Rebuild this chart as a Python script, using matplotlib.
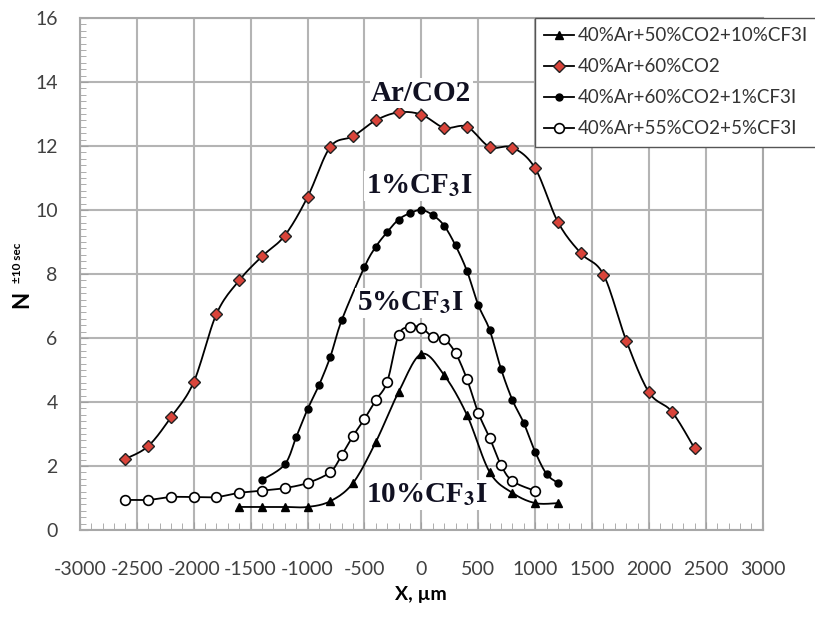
import matplotlib
matplotlib.use("Agg")
import matplotlib.pyplot as plt
import numpy as np
from matplotlib.ticker import MultipleLocator

plt.rcParams['font.family'] = ['Lato', 'DejaVu Sans']
plt.rcParams['mathtext.fontset'] = 'stix'
plt.rcParams['axes.unicode_minus'] = False

# data (x in um, counts)
x_10 = [-1600, -1400, -1200, -1000, -800, -600, -400, -200, 0, 200, 400, 600, 800, 1000, 1200]
y_10 = [0.72, 0.72, 0.72, 0.72, 0.9, 1.47, 2.75, 4.31, 5.5, 4.84, 3.6, 1.81, 1.16, 0.84, 0.84]

x_ar = [-2600, -2400, -2200, -2000, -1800, -1600, -1400, -1200, -1000, -800, -600, -400, -200,
        0, 200, 400, 600, 800, 1000, 1200, 1400, 1600, 1800, 2000, 2200, 2400]
y_ar = [2.22, 2.62, 3.52, 4.62, 6.75, 7.8, 8.55, 9.2, 10.4, 11.97, 12.3, 12.8, 13.05,
        12.98, 12.57, 12.6, 11.97, 11.95, 11.3, 9.62, 8.65, 7.98, 5.92, 4.3, 3.7, 2.55]

x_1 = [-1400, -1200, -1100, -1000, -900, -800, -700, -500, -400, -300, -200, -100,
       0, 100, 200, 300, 400, 500, 600, 700, 800, 900, 1000, 1100, 1200]
y_1 = [1.56, 2.05, 2.9, 3.77, 4.52, 5.41, 6.55, 8.22, 8.85, 9.31, 9.7, 9.9,
       10.0, 9.84, 9.51, 8.89, 8.1, 7.03, 6.25, 5.03, 4.06, 3.34, 2.44, 1.75, 1.47]

x_5 = [-2600, -2400, -2200, -2000, -1800, -1600, -1400, -1200, -1000, -800, -700, -600, -500,
       -400, -300, -200, -100, 0, 100, 200, 300, 400, 500, 600, 700, 800, 1000]
y_5 = [0.94, 0.94, 1.03, 1.03, 1.03, 1.16, 1.23, 1.31, 1.47, 1.81, 2.34, 2.94, 3.47,
       4.06, 4.63, 6.09, 6.34, 6.32, 6.03, 5.97, 5.53, 4.72, 3.66, 2.88, 2.03, 1.53, 1.22]

labels = ["40%Ar+50%CO2+10%CF3I", "40%Ar+60%CO2", "40%Ar+60%CO2+1%CF3I", "40%Ar+55%CO2+5%CF3I"]


def smooth(xs, ys, n=12):
    # catmull-rom curve through the points, like excel's smoothed lines
    p = np.column_stack([xs, ys]).astype(float)
    p = np.vstack([p[0], p, p[-1]])
    t = np.linspace(0, 1, n, endpoint=False)[:, None]
    out = []
    for i in range(1, len(p) - 2):
        p0, p1, p2, p3 = p[i - 1], p[i], p[i + 1], p[i + 2]
        seg = 0.5 * ((2 * p1) + (-p0 + p2) * t + (2 * p0 - 5 * p1 + 4 * p2 - p3) * t ** 2
                     + (-p0 + 3 * p1 - 3 * p2 + p3) * t ** 3)
        out.append(seg)
    out.append(p[-2][None, :])
    out = np.vstack(out)
    return out[:, 0], out[:, 1]


fig = plt.figure(figsize=(8.15, 6.18), dpi=100)
ax = fig.add_axes([0.098, 0.1424, 0.838, 0.8286])

series = [
    (x_10, y_10, dict(marker='^', ms=5.5, mfc='black', mec='black')),
    (x_ar, y_ar, dict(marker='D', ms=6, mfc='#d9443a', mec='#222222', mew=1.0)),
    (x_1, y_1, dict(marker='o', ms=5, mfc='black', mec='black')),
    (x_5, y_5, dict(marker='o', ms=7, mfc='white', mec='black', mew=1.2)),
]
handles = []
for (xs, ys, st), lab in zip(series, labels):
    sx, sy = smooth(xs, ys)
    ax.plot(sx, sy, color='black', lw=1.3, zorder=3)
    ax.plot(xs, ys, ls='none', zorder=4, **st)
    h, = ax.plot([], [], color='black', lw=1.3, **st)
    handles.append(h)

ax.set_xlim(-3000, 3000)
ax.set_ylim(0, 16)
ax.xaxis.set_major_locator(MultipleLocator(500))
ax.xaxis.set_minor_locator(MultipleLocator(100))
ax.yaxis.set_major_locator(MultipleLocator(2))
ax.yaxis.set_minor_locator(MultipleLocator(0.2))
ax.grid(True, which='major', color='#b4b4b4', lw=1.5, zorder=0)
ax.set_axisbelow(True)
for s in ax.spines.values():
    s.set_color('#a8a8a8')
    s.set_linewidth(1.5)

ax.tick_params(which='both', direction='in', color='#a0a0a0', labelcolor='#404040',
               labelsize=14, top=False, right=False)
ax.tick_params(axis='x', which='major', length=6, pad=22)
ax.tick_params(axis='x', which='minor', length=5)
ax.tick_params(axis='y', which='major', length=6, pad=16)
ax.tick_params(axis='y', which='minor', length=4)

ax.set_xlabel("X, µm", fontsize=14, fontweight='bold', labelpad=6)
fig.text(0.027, 0.515, "N", rotation=90, fontsize=16, fontweight='bold', ha='center', va='center')
fig.text(0.022, 0.575, "±10 sec", rotation=90, fontsize=8.5, fontweight='bold', ha='center', va='center')

box = dict(facecolor='white', edgecolor='none', pad=1)
serif = dict(family=['Liberation Serif', 'DejaVu Serif'], fontweight='bold', fontsize=21,
             color='#111122', ha='center', va='center', zorder=5, bbox=box)
ax.text(0, 13.65, "Ar/CO2", **serif)
ax.text(-20, 10.75, r"1%CF$_\mathbf{3}$I", **serif)
ax.text(-100, 7.1, r"5%CF$_\mathbf{3}$I", **serif)
ax.text(50, 1.1, r"10%CF$_\mathbf{3}$I", **serif)

leg = ax.legend(handles, labels, loc='upper left', bbox_to_anchor=(0.666, 1.0), fontsize=13.5,
                frameon=True, fancybox=False, edgecolor='#555555', framealpha=1,
                handlelength=1.6, handletextpad=0.2, labelspacing=0.75, borderpad=0.5,
                borderaxespad=0)
leg.get_frame().set_linewidth(1.0)
for t in leg.get_texts():
    t.set_color('#333333')
leg.set_zorder(10)

fig.savefig("out.png", dpi=100)
